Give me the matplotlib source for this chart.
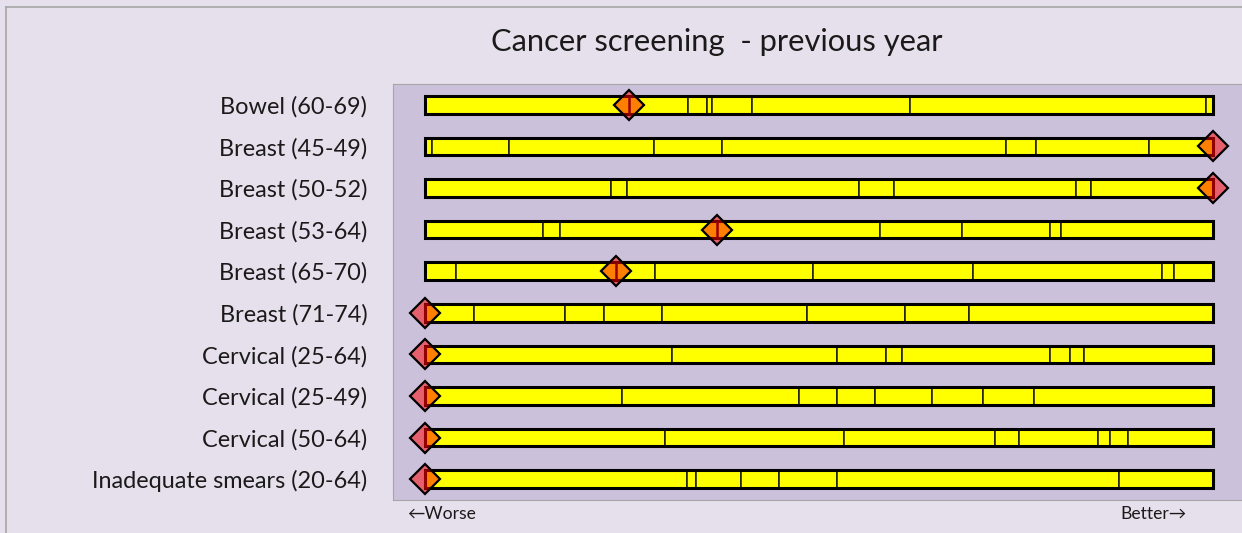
import matplotlib.pyplot as plt
from matplotlib.lines import Line2D

# Datos (posicion en escala 0-100, peor -> mejor)
indicators = [
    "Bowel (60-69)",
    "Breast (45-49)",
    "Breast (50-52)",
    "Breast (53-64)",
    "Breast (65-70)",
    "Breast (71-74)",
    "Cervical (25-64)",
    "Cervical (25-49)",
    "Cervical (50-64)",
    "Inadequate smears (20-64)",
]
bounds_bowel_60_69 = [33.4, 35.8, 36.4, 41.5, 61.5, 99.1]
bounds_breast_45_49 = [0.9, 10.7, 29.1, 37.7, 73.7, 77.5, 91.9]
bounds_breast_50_52 = [23.6, 25.6, 55.1, 59.5, 82.6, 84.5]
bounds_breast_53_64 = [15.0, 17.1, 57.7, 68.1, 79.3, 80.7]
bounds_breast_65_70 = [3.9, 29.2, 49.2, 69.5, 93.5, 95.1]
bounds_breast_71_74 = [6.2, 17.8, 22.7, 30.1, 48.5, 60.9, 69.0]
bounds_cervical_25_64 = [31.3, 52.3, 58.5, 60.5, 79.3, 81.9, 83.6]
bounds_cervical_25_49 = [25.0, 47.5, 52.3, 57.1, 64.3, 70.8, 77.3]
bounds_cervical_50_64 = [30.5, 53.2, 72.3, 75.4, 85.4, 86.9, 89.2]
bounds_smears_20_64 = [33.2, 34.4, 40.1, 44.9, 52.3, 88.1]
area_values = [25.9, 100.0, 100.0, 37.1, 24.2, 0.0, 0.0, 0.0, 0.0, 0.0]

all_bounds = [
    bounds_bowel_60_69, bounds_breast_45_49, bounds_breast_50_52,
    bounds_breast_53_64, bounds_breast_65_70, bounds_breast_71_74,
    bounds_cervical_25_64, bounds_cervical_25_49, bounds_cervical_50_64,
    bounds_smears_20_64,
]

plt.rcParams['font.family'] = ['Lato', 'DejaVu Sans']

fig = plt.figure(figsize=(12.42, 5.33), dpi=100)
fig.patch.set_facecolor('#E6E0EC')
# borde del grafico (solo arriba e izquierda se ven)
bx, by = 5.5 / 1242, 1 - 6.5 / 533
fig.lines.append(Line2D([bx, 1], [by, by], transform=fig.transFigure, color='#A6A6A6', lw=1.2))
fig.lines.append(Line2D([bx, bx], [0, by], transform=fig.transFigure, color='#A6A6A6', lw=1.2))

ax = fig.add_axes([393 / 1242, 1 - 500 / 533, 1 - 393 / 1242, 416 / 533])
ax.set_facecolor('#CCC1DA')

bar_h = 0.42
for i, bnds in enumerate(all_bounds):
    edges = [0] + bnds + [100]
    lefts = edges[:-1]
    widths = [b - a for a, b in zip(edges[:-1], edges[1:])]
    ax.barh([i] * len(lefts), widths, left=lefts, height=bar_h,
            color='#FFFF00', edgecolor='#1a1a1a', lw=1.1, zorder=2)
    # contorno exterior
    ax.barh(i, 100, left=0, height=bar_h, fill=False, edgecolor='black', lw=2.2, zorder=3)

# valor del area
ax.plot(area_values, range(len(indicators)), ls='none', marker='D', ms=15,
        markerfacecolor=(1, 0, 0, 0.5), markeredgecolor='black', mew=1.6, zorder=4)
ax.vlines(area_values, [i - bar_h / 2 for i in range(len(indicators))],
          [i + bar_h / 2 for i in range(len(indicators))],
          color='#990000', lw=1.8, zorder=5)

ax.set_xlim(-32 / 7.88, 100 + 29 / 7.88)
ax.set_ylim(len(indicators) - 0.5, -0.5)
ax.set_xticks([])
ax.set_yticks(range(len(indicators)))
ax.set_yticklabels(indicators, fontsize=16.9, color='#1a1a1a')
ax.tick_params(axis='y', length=0, pad=18.5)
for s in ['top', 'left', 'bottom']:
    ax.spines[s].set_color('#A6A6A6')
ax.spines['right'].set_visible(False)

fig.text(717 / 1242, 1 - 42 / 533, 'Cancer screening  - previous year',
         ha='center', va='center', fontsize=22.2, color='#1a1a1a')
fig.text(407 / 1242, 1 - 514 / 533, '←Worse', ha='left', va='center', fontsize=12.6, color='#1a1a1a')
fig.text(1187 / 1242, 1 - 514 / 533, 'Better→', ha='right', va='center', fontsize=12.6, color='#1a1a1a')

plt.savefig('out.png', dpi=100, facecolor=fig.get_facecolor())
